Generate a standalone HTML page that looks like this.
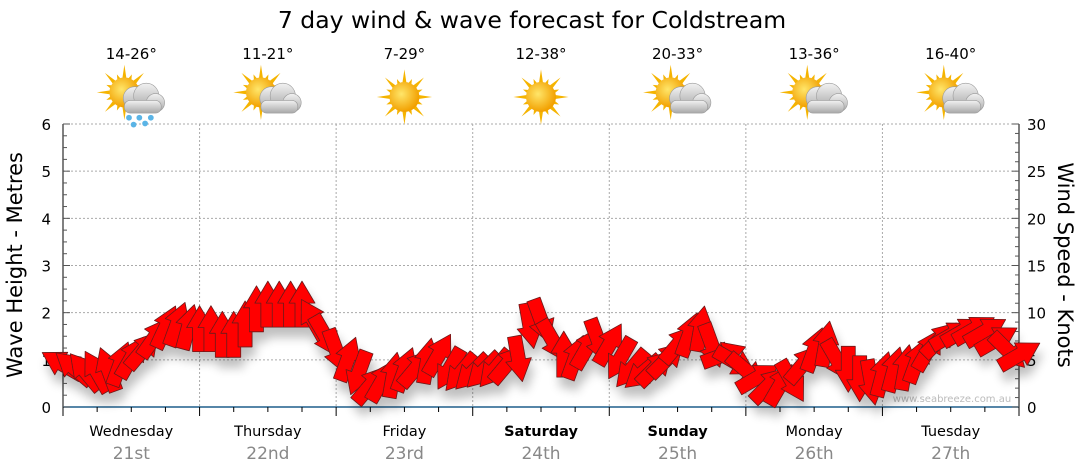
<!DOCTYPE html>
<html><head><meta charset="utf-8"><style>
body{margin:0;background:#fff;}
svg{display:block;font-family:"DejaVu Sans","Liberation Sans",sans-serif;}
</style></head><body>
<svg id="c" width="1080" height="475" viewBox="0 0 1080 475">
<defs>
<filter id="sh" x="-20%" y="-20%" width="140%" height="160%"><feGaussianBlur in="SourceAlpha" stdDeviation="5"/><feOffset dx="3" dy="10"/><feComponentTransfer><feFuncA type="linear" slope="0.25"/></feComponentTransfer><feMerge><feMergeNode/><feMergeNode in="SourceGraphic"/></feMerge></filter>
<radialGradient id="sun" cx="40%" cy="40%" r="60%"><stop offset="0" stop-color="#ffe66a"/><stop offset="1" stop-color="#f2a000"/></radialGradient>
<linearGradient id="cl" x1="0" y1="0" x2="0" y2="1"><stop offset="0" stop-color="#f2f2f2"/><stop offset="1" stop-color="#a8a8a8"/></linearGradient>
</defs>
<text x="532" y="28" font-size="23.5" text-anchor="middle">7 day wind &amp; wave forecast for Coldstream</text>
<g id="grid"></g><g id="axes"></g><g id="icons"></g>
<text x="952" y="402" font-size="10" fill="#bbb" text-anchor="middle">www.seabreeze.com.au</text>
<g id="arrows" filter="url(#sh)"></g>
<text transform="translate(22,265) rotate(-90)" font-size="21" text-anchor="middle">Wave Height - Metres</text>
<text transform="translate(1058,265) rotate(90)" font-size="21" text-anchor="middle">Wind Speed - Knots</text>
</svg>
<script>
const days=["Wednesday","Thursday","Friday","Saturday","Sunday","Monday","Tuesday"];
const dates=["21st","22nd","23rd","24th","25th","26th","27th"];
const boldDays=[false,false,false,true,true,false,false];
const temps=["14-26°","11-21°","7-29°","12-38°","20-33°","13-36°","16-40°"];
const weather=["rain","cloud","sun","sun","cloud","cloud","cloud"];
const waveTicks=[0,1,2,3,4,5,6];
const windTicks=[0,5,10,15,20,25,30];
// wind every 2 hours
const windSpeed=[4.5,4.1,3.7,3.7,3.9,4.5,5.2,6.0,7.3,8.4,8.7,8.4,
8.2,8.2,7.6,7.6,8.7,10.3,10.8,10.8,10.8,10.8,9.2,7.6,
6.0,5.0,3.7,2.3,2.7,3.3,3.9,4.1,4.8,5.5,4.1,3.7,
3.7,3.9,4.1,4.5,5.2,8.7,9.2,7.1,5.5,5.2,6.2,7.1,
6.6,5.2,4.1,3.7,4.1,5.0,6.6,7.6,8.2,6.6,5.5,4.8,
3.9,3.1,2.3,2.3,2.8,4.5,6.0,6.6,5.0,4.1,3.1,2.7,
3.4,3.9,4.1,4.8,6.0,7.1,7.6,8.0,8.2,8.0,7.1,6.0,5.5];
const windDir=[300,310,320,330,340,20,30,40,35,25,20,15,
0,0,0,0,0,0,0,0,0,0,330,150,
160,20,200,40,30,10,20,40,10,30,210,220,
225,225,220,40,170,170,160,150,0,20,30,160,
30,210,220,230,45,45,40,20,10,160,70,120,
130,60,45,30,150,40,20,10,150,180,180,170,
15,15,10,20,30,45,60,60,60,60,60,135,60];
const X0=63,X1=1019,Y0=407,Y1=124;
const xH=h=>X0+(X1-X0)*h/168;
const yW=m=>Y0-(Y0-Y1)*m/6;
const yK=k=>Y0-(Y0-Y1)*k/30;
const NS="http://www.w3.org/2000/svg";
function mk(p,t,a){const e=document.createElementNS(NS,t);for(const k in a)e.setAttribute(k,a[k]);document.getElementById(p).appendChild(e);return e;}
for(const m of waveTicks){if(m===0)continue;const l=mk("grid","line",{x1:X0,x2:X1,y1:yW(m),y2:yW(m),stroke:"#aaa","stroke-dasharray":"2,2"});

}
for(let d=1;d<7;d++){const l=mk("grid","line",{x1:xH(d*24),x2:xH(d*24),y1:Y1,y2:Y0,stroke:"#aaa","stroke-dasharray":"2,2"});

}
mk("axes","line",{x1:X0,x2:X0,y1:Y1,y2:Y0+8,stroke:"#000"});
mk("axes","line",{x1:X1,x2:X1,y1:Y1,y2:Y0,stroke:"#000"});
mk("axes","line",{x1:X0,x2:X1,y1:Y0,y2:Y0,stroke:"#1f5f8b","stroke-width":1.5});
for(let i=0;i<=24;i++){const y=yW(i/4);mk("axes","line",{x1:X0,x2:X0+(i%4?4:7),y1:y,y2:y,stroke:"#555"});}
for(const m of waveTicks){const t=mk("axes","text",{x:51,y:yW(m)+6,"font-size":15,"text-anchor":"end"});t.textContent=m;

}
for(let k=0;k<=30;k++){const y=yK(k);mk("axes","line",{x1:X1,x2:X1-(k%5?4:7),y1:y,y2:y,stroke:"#555"});}
for(const k of windTicks){const t=mk("axes","text",{x:1027,y:yK(k)+6,"font-size":15});t.textContent=k;

}
for(let h=0;h<=168;h+=6){mk("axes","line",{x1:xH(h),x2:xH(h),y1:Y0,y2:Y0+(h%24?5:9),stroke:"#000"});}
days.forEach((d,i)=>{const cx=xH(i*24+12);
const t=mk("axes","text",{x:cx,y:436,"font-size":14.5,"text-anchor":"middle","font-weight":boldDays[i]?"bold":"normal"});t.textContent=d;


const t2=mk("axes","text",{x:cx,y:459,"font-size":17,"text-anchor":"middle",fill:"#888"});t2.textContent=dates[i];


const t3=mk("icons","text",{x:cx,y:59,"font-size":15,"text-anchor":"middle"});t3.textContent=temps[i];


const g=mk("icons","g",{transform:`translate(${cx},97) scale(1.15)`});


const sx=weather[i]==="sun"?0:-6,sy=weather[i]==="sun"?0:-4;
let rays="";for(let r=0;r<16;r++){const a=r*Math.PI/8,L=r%2?17:24;rays+=`<polygon points="${sx+Math.cos(a)*L},${sy+Math.sin(a)*L} ${sx+Math.cos(a+0.18)*11},${sy+Math.sin(a+0.18)*11} ${sx+Math.cos(a-0.18)*11},${sy+Math.sin(a-0.18)*11}" fill="#f5b400"/>`;}
let s=rays+`<circle cx="${sx}" cy="${sy}" r="13" fill="url(#sun)"/>`;
if(weather[i]!=="sun"){s+=`<g fill="url(#cl)" stroke="#999" stroke-width="0.5"><circle cx="3" cy="1" r="10"/><circle cx="13" cy="-1" r="11"/><circle cx="21" cy="5" r="8"/><rect x="-6" y="3" width="32" height="11" rx="5"/></g>`;}
if(weather[i]==="rain"){s+=`<g fill="#5ab4e6"><circle cx="-2" cy="18" r="2.5"/><circle cx="7" cy="18" r="2.5"/><circle cx="17" cy="18" r="2.5"/><circle cx="2" cy="24" r="2.5"/><circle cx="12" cy="23" r="2.5"/></g>`;}
g.innerHTML=s;});
windSpeed.forEach((k,i)=>{const x=xH(i*2),y=yK(k);
const p=mk("arrows","polygon",{points:"-7,22 7,22 7,-2 13,-2 0,-24 -13,-2 -7,-2",fill:"#ff0000",stroke:"#6a1a1a","stroke-width":0.8,"stroke-linejoin":"round",transform:`translate(${x},${y}) rotate(${windDir[i]})`});

});
</script>
</body></html>
